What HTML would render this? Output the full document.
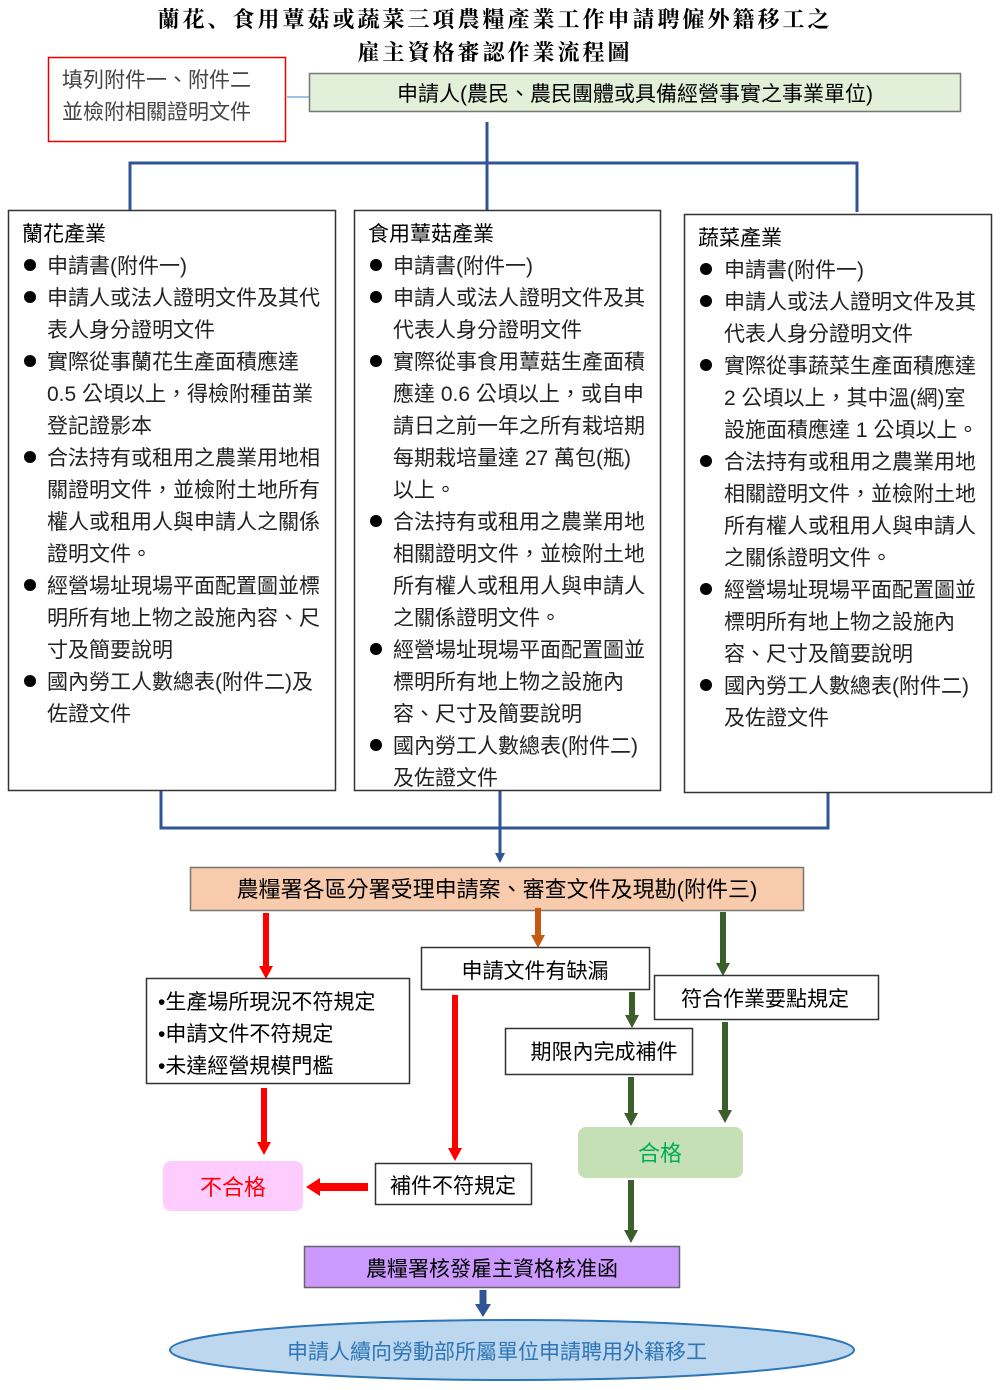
<!DOCTYPE html>
<html><head><meta charset="utf-8"><style>
html,body{margin:0;padding:0;background:#fff;}
svg{display:block;}
text{font-family:"Liberation Sans","Noto Sans CJK TC",sans-serif;}
.t{font-size:21px;fill:#222;}
.h{font-size:21px;fill:#000;}
</style></head><body>
<svg width="1000" height="1390" viewBox="0 0 1000 1390" xmlns="http://www.w3.org/2000/svg">
<!-- title -->
<text x="495" y="27" text-anchor="middle" style="font-family:'Noto Serif CJK SC','Liberation Serif',serif;font-size:22px;font-weight:bold;letter-spacing:3px" fill="#000">蘭花、食用蕈菇或蔬菜三項農糧產業工作申請聘僱外籍移工之</text>
<text x="495" y="60" text-anchor="middle" style="font-family:'Noto Serif CJK SC','Liberation Serif',serif;font-size:22px;font-weight:bold;letter-spacing:3px" fill="#000">雇主資格審認作業流程圖</text>

<rect x="48.5" y="57.5" width="237" height="84" fill="#fff" stroke="#e00" stroke-width="1.5"/>
<text x="62" y="87" class="t" style="fill:#444">填列附件一、附件二</text>
<text x="62" y="119" class="t" style="fill:#444">並檢附相關證明文件</text>
<line x1="287" y1="97" x2="309" y2="97" stroke="#9dc3e6" stroke-width="2"/>
<rect x="309.5" y="73.5" width="651" height="38" fill="#e2efd9" stroke="#777" stroke-width="1.5"/>
<text x="635" y="101" text-anchor="middle" class="h">申請人(農民、農民團體或具備經營事實之事業單位)</text>

<g stroke="#2f5597" stroke-width="3" fill="none">
<path d="M487,122 V210"/>
<path d="M130,210 V163 H857 V212"/>
<path d="M161,791 V828 H828 V793"/>
<path d="M500,791 V856"/>
</g>
<path d="M495,853 L505,853 L500,863z" fill="#2f5597"/>

<g fill="#fff" stroke="#333" stroke-width="1.5">
<rect x="8.5" y="210.5" width="327" height="580"/>
<rect x="354.5" y="210.5" width="306" height="580"/>
<rect x="684.5" y="214.5" width="307" height="578"/>
</g>

<g class="t">
<text x="22" y="241" class="h">蘭花產業</text>
<text x="47" y="273">申請書(附件一)</text>
<text x="47" y="305">申請人或法人證明文件及其代</text>
<text x="47" y="337">表人身分證明文件</text>
<text x="47" y="369">實際從事蘭花生產面積應達</text>
<text x="47" y="401">0.5 公頃以上，得檢附種苗業</text>
<text x="47" y="433">登記證影本</text>
<text x="47" y="465">合法持有或租用之農業用地相</text>
<text x="47" y="497">關證明文件，並檢附土地所有</text>
<text x="47" y="529">權人或租用人與申請人之關係</text>
<text x="47" y="561">證明文件。</text>
<text x="47" y="593">經營場址現場平面配置圖並標</text>
<text x="47" y="625">明所有地上物之設施內容、尺</text>
<text x="47" y="657">寸及簡要說明</text>
<text x="47" y="689">國內勞工人數總表(附件二)及</text>
<text x="47" y="721">佐證文件</text>
</g>
<g fill="#000">
<circle cx="30" cy="265" r="6"/><circle cx="30" cy="297" r="6"/><circle cx="30" cy="361" r="6"/><circle cx="30" cy="457" r="6"/><circle cx="30" cy="585" r="6"/><circle cx="30" cy="681" r="6"/>
</g>

<g class="t">
<text x="368" y="241" class="h">食用蕈菇產業</text>
<text x="393" y="273">申請書(附件一)</text>
<text x="393" y="305">申請人或法人證明文件及其</text>
<text x="393" y="337">代表人身分證明文件</text>
<text x="393" y="369">實際從事食用蕈菇生產面積</text>
<text x="393" y="401">應達 0.6 公頃以上，或自申</text>
<text x="393" y="433">請日之前一年之所有栽培期</text>
<text x="393" y="465">每期栽培量達 27 萬包(瓶)</text>
<text x="393" y="497">以上。</text>
<text x="393" y="529">合法持有或租用之農業用地</text>
<text x="393" y="561">相關證明文件，並檢附土地</text>
<text x="393" y="593">所有權人或租用人與申請人</text>
<text x="393" y="625">之關係證明文件。</text>
<text x="393" y="657">經營場址現場平面配置圖並</text>
<text x="393" y="689">標明所有地上物之設施內</text>
<text x="393" y="721">容、尺寸及簡要說明</text>
<text x="393" y="753">國內勞工人數總表(附件二)</text>
<text x="393" y="785">及佐證文件</text>
</g>
<g fill="#000">
<circle cx="376" cy="265" r="6"/><circle cx="376" cy="297" r="6"/><circle cx="376" cy="361" r="6"/><circle cx="376" cy="521" r="6"/><circle cx="376" cy="649" r="6"/><circle cx="376" cy="745" r="6"/>
</g>

<g class="t">
<text x="698" y="245" class="h">蔬菜產業</text>
<text x="724" y="277">申請書(附件一)</text>
<text x="724" y="309">申請人或法人證明文件及其</text>
<text x="724" y="341">代表人身分證明文件</text>
<text x="724" y="373">實際從事蔬菜生產面積應達</text>
<text x="724" y="405">2 公頃以上，其中溫(網)室</text>
<text x="724" y="437">設施面積應達 1 公頃以上。</text>
<text x="724" y="469">合法持有或租用之農業用地</text>
<text x="724" y="501">相關證明文件，並檢附土地</text>
<text x="724" y="533">所有權人或租用人與申請人</text>
<text x="724" y="565">之關係證明文件。</text>
<text x="724" y="597">經營場址現場平面配置圖並</text>
<text x="724" y="629">標明所有地上物之設施內</text>
<text x="724" y="661">容、尺寸及簡要說明</text>
<text x="724" y="693">國內勞工人數總表(附件二)</text>
<text x="724" y="725">及佐證文件</text>
</g>
<g fill="#000">
<circle cx="706" cy="269" r="6"/><circle cx="706" cy="301" r="6"/><circle cx="706" cy="365" r="6"/><circle cx="706" cy="461" r="6"/><circle cx="706" cy="589" r="6"/><circle cx="706" cy="685" r="6"/>
</g>

<rect x="190.5" y="867.5" width="613" height="43" fill="#f8cbad" stroke="#777" stroke-width="1.5"/>
<text x="497" y="897" text-anchor="middle" class="h" style="font-size:22px">農糧署各區分署受理申請案、審查文件及現勘(附件三)</text>

<g stroke-width="6" fill="none">
<path d="M266,913 V968" stroke="#ff0000"/>
<path d="M538,908 V937" stroke="#c55a11"/>
<path d="M723,912 V965" stroke="#3b5e2a"/>
<path d="M632,992 V1017" stroke="#3b5e2a"/>
<path d="M455,995 V1150" stroke="#ff0000"/>
<path d="M264,1088 V1144" stroke="#ff0000"/>
<path d="M368,1187 H318" stroke="#ff0000" stroke-width="8"/>
<path d="M631,1077 V1115" stroke="#3b5e2a"/>
<path d="M725,1022 V1112" stroke="#3b5e2a"/>
<path d="M631,1180 V1232" stroke="#3b5e2a"/>
<path d="M483,1290 V1306" stroke="#2f5597" stroke-width="7"/>
</g>
<g>
<path d="M259,966 L273,966 L266,979z" fill="#ff0000"/>
<path d="M531,935 L545,935 L538,948z" fill="#c55a11"/>
<path d="M716,963 L730,963 L723,976z" fill="#3b5e2a"/>
<path d="M625,1015 L639,1015 L632,1028z" fill="#3b5e2a"/>
<path d="M448,1148 L462,1148 L455,1161z" fill="#ff0000"/>
<path d="M257,1142 L271,1142 L264,1155z" fill="#ff0000"/>
<path d="M320,1178 L320,1196 L306,1187z" fill="#ff0000"/>
<path d="M624,1113 L638,1113 L631,1126z" fill="#3b5e2a"/>
<path d="M718,1110 L732,1110 L725,1123z" fill="#3b5e2a"/>
<path d="M624,1230 L638,1230 L631,1243z" fill="#3b5e2a"/>
<path d="M475,1304 L491,1304 L483,1317z" fill="#2f5597"/>
</g>

<g fill="#fff" stroke="#333" stroke-width="1.5">
<rect x="146.5" y="978.5" width="263" height="105"/>
<rect x="421.5" y="947.5" width="228" height="42"/>
<rect x="654.5" y="975.5" width="224" height="44"/>
<rect x="505.5" y="1028.5" width="187" height="46"/>
<rect x="375.5" y="1163.5" width="156" height="41"/>
</g>
<text x="158" y="1009" class="h">•生產場所現況不符規定</text>
<text x="158" y="1041" class="h">•申請文件不符規定</text>
<text x="158" y="1073" class="h">•未達經營規模門檻</text>
<text x="535" y="978" text-anchor="middle" class="h">申請文件有缺漏</text>
<text x="765" y="1006" text-anchor="middle" class="h">符合作業要點規定</text>
<text x="604" y="1059" text-anchor="middle" class="h">期限內完成補件</text>
<text x="453" y="1193" text-anchor="middle" class="h">補件不符規定</text>

<rect x="163" y="1161" width="140" height="50" rx="8" fill="#ffccff"/>
<text x="233" y="1195" text-anchor="middle" style="font-size:22px" fill="#ff0000">不合格</text>
<rect x="578" y="1127" width="165" height="51" rx="8" fill="#c5e0b4"/>
<text x="660" y="1161" text-anchor="middle" style="font-size:22px" fill="#00b050">合格</text>

<rect x="304.5" y="1246.5" width="375" height="41" fill="#cc99ff" stroke="#666" stroke-width="1.5"/>
<text x="492" y="1276" text-anchor="middle" class="h">農糧署核發雇主資格核准函</text>

<ellipse cx="512" cy="1350" rx="342" ry="30" fill="#bdd7ee" stroke="#2e75b6" stroke-width="2"/>
<text x="497" y="1359" text-anchor="middle" style="font-size:21px" fill="#2e75b6">申請人續向勞動部所屬單位申請聘用外籍移工</text>
</svg>
</body></html>
